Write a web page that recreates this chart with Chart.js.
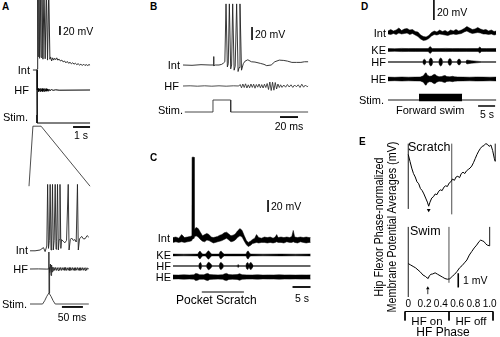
<!DOCTYPE html>
<html>
<head>
<meta charset="utf-8">
<script src="https://cdn.jsdelivr.net/npm/chart.js@4.4.1/dist/chart.umd.min.js"></script>
<style>
  body { margin: 0; width: 500px; height: 337px; position: relative; overflow: hidden; background: #fff;
         font-family: "Liberation Sans", Arial, Helvetica, sans-serif; color: #000; }
  canvas { position: absolute; }
  .lb { position: absolute; white-space: nowrap; line-height: 1; font-size: 11px; }
  .pl { position: absolute; font-weight: bold; font-size: 10px; line-height: 1; }
</style>
</head>
<body>
<script>
// ---------- A: slow sweep (time s, Int mV, HF uV, Stim a.u.) ----------
const aSlowInt = [[-0.24,-60],[-0.02,-60],[0,-58],[0.04,120],[0.07,-30],[0.11,120],[0.15,-34],[0.19,120],[0.24,-32],
  [0.29,120],[0.35,-36],[0.41,120],[0.48,-35],[0.55,120],[0.62,-38],[0.69,120],[0.76,-36],
  [0.8,-31],[0.86,-40],[0.92,-33],[0.98,-38],[1.04,-34],[1.1,-37],[1.16,-33],[1.22,-38],[1.3,-36],[1.38,-40],
  [1.46,-38],[1.54,-42],[1.62,-40],[1.7,-44],[1.78,-41],[1.86,-45],[1.94,-43],[2.02,-46],[2.1,-44],[2.18,-47],
  [2.26,-45],[2.34,-48],[2.42,-46],[2.5,-49],[2.58,-47],[2.66,-50],[2.74,-47],[2.82,-50],[2.9,-48],[2.98,-50],
  [3.06,-48],[3.12,-49]];
const aSlowHF = [[0,200],[0,-250],[0.02,0],[0.06,15],[0.1,-15],[0.14,12],[0.18,-14],[0.22,15],[0.26,-12],[0.3,14],
  [0.34,-15],[0.38,12],[0.42,-13],[0.46,14],[0.5,-12],[0.54,13],[0.58,-12],[0.62,10],[0.66,-10],[0.7,8],[0.76,-6],
  [0.85,4],[0.95,-3],[1.1,2],[1.3,-2],[3.12,0]];
const aSlowStim = [[0,1],[0,0],[3.12,0]];
// window of the slow sweep that is expanded below
const aZoomGuide = [[-0.47,-7.9],[-0.24,-0.4],[0.24,-0.4],[3.12,-7.9]];

// ---------- A: fast sweep (time ms) ----------
const aFastInt = [[0,-61],[12,-61],[24,-60],[32,-57],[36,-62],[40,-55],[42,22],[44,-58],[46,-48],[48,22],[50,-60],
  [51.5,-50],[53.6,22],[55.5,-60],[57.5,-48],[60,22],[62,-59],[63.5,-49],[65.5,22],[67.5,-60],[69.5,-47],[71.4,22],
  [73.5,-58],[75,-47],[79,-49],[83,-51],[87,-48],[91,22],[93,-60],[96,-47],[99,-45],[103,-48],[107,-47],[110,-50],
  [113,22],[115,-60],[118,-46],[123,-43],[127,-46],[131,-46],[136,-42],[140,-44]];
const aFastHF = [[0,0],[20,1],[40,-1],[44.6,0],[45,170],[45.3,-240],[46,15],[47.3,-35],[48.6,50],[50,-65],[51.4,40],
  [52.8,-30],[54.2,18],[55.6,-14],[57,15],[59,-13],[61,15],[63,-14],[65,13],[67,-15],[69,14],[71,-13],[73,15],[75,-14],
  [77,13],[79,-12],[81,14],[83,-13],[85,15],[87,-14],[89,12],[91,-13],[93,14],[95,-15],[97,13],[99,-12],[101,14],
  [103,-13],[105,12],[107,-14],[109,13],[111,-12],[113,14],[115,-13],[117,12],[119,-14],[121,13],[123,-12],[125,13],
  [127,-13],[129,12],[131,-14],[133,13],[135,-12],[137,10],[140,0]];
const aFastStim = [[0,0],[30,0],[35,0.3],[40,0.7],[45,1],[50,0.7],[55,0.3],[60,0],[140,0]];

// ---------- B (time ms) ----------
const bInt = [[0,-60],[10,-60.5],[20,-59.5],[30,-60],[33.6,-60],[34,-47],[34.4,-61],[36,-60],[40,-60],[43,-59],
  [45,-57],[46.5,-55],[47.8,34],[49.3,-63],[50.3,-58],[51.5,34],[53,-66],[54,-60],[55.2,34],[56.8,-68],[58,-62],
  [59.6,34],[61.2,-70],[62.3,-64],[63.3,34],[65,-68],[67,-58],[69,-54],[72,-52],[76,-55],[80,-55.5],[86,-57.5],
  [90,-59],[93,-61],[98,-60],[102,-55],[107,-52.5],[112,-53],[116,-54],[121,-56],[126,-56],[131,-56],[135,-55],[139,-55]];
const bHF = [[0,0],[8,2],[16,-2],[24,2],[32,-2],[40,2],[48,-2],[56,2],[62,0],[63.5,15],[65,-18],[66.5,20],[68,-15],
  [69.5,22],[71,-20],[72.5,12],[74,-18],[75.5,20],[77,-14],[78.5,18],[80,-22],[81.5,15],[83,-12],[84.5,20],[86,-18],
  [87.5,14],[89,-20],[90.5,18],[92,-15],[93.5,25],[95,-35],[96.5,40],[98,-45],[99.5,38],[101,-42],[102.5,35],
  [104,-30],[105.5,20],[107,-15],[108.5,12],[110,-14],[112,10],[114,-12],[116,15],[118,-10],[120,12],[122,-14],
  [124,10],[126,-8],[128,12],[130,-15],[132,18],[134,-12],[136,10],[138,-8],[139,0]];
const bStim = [[2,0],[33.3,0],[33.3,1],[53,1],[53,0],[139,0]];

// ---------- C: pocket scratch (time s) ----------
const cIntTime = [0,0.8,1.6,2.4,3.2,4.0,4.8,5.25,5.3,5.85,5.9,6.4,7.0,7.6,8.2,8.8,9.4,10.0,10.6,11.2,
  11.8,12.4,13.0,13.6,14.2,14.9,15.5,16.1,16.7,17.3,17.9,18.6,19.2,19.8,20.4,20.9,21.5,22.1,22.7,23.2,
  23.8,24.6,25.4,26.2,27.0,27.8,28.4,28.8,29.2,30.0,30.8,31.6,32.4,33.0,33.4,33.8,34.6,35.4,36.2,37.0,37.8,38.2];
const cIntHigh = [-56,-55,-57,-51,-56,-55,-54,-53,78,78,-43,-39,-41,-47,-53,-51,-49,-51,-55,-56,
  -55,-54,-52,-51,-48,-47,-50,-53,-52,-50,-45,-41,-44,-53,-61,-64,-62,-59,-57,-51,
  -56,-57,-55,-56,-55,-57,-55,-51,-56,-55,-56,-55,-56,-54,-44,-55,-56,-55,-56,-55,-56,-56];
const cIntLow = [-64,-63,-64,-63,-64,-63,-62,-61,-59,-57,-55,-53,-55,-59,-62,-63,-60,-61,-63,-65,
  -64,-63,-62,-61,-59,-57,-60,-63,-62,-60,-56,-53,-55,-62,-68,-71,-69,-66,-65,-64,
  -65,-64,-64,-65,-64,-65,-64,-63,-64,-64,-65,-63,-64,-64,-63,-64,-65,-63,-64,-65,-64,-64];
const cKeTime = [0,3,6.9,7.2,7.5,7.8,8.2,9.0,9.3,9.6,9.9,10.3,10.7,12.8,13.1,13.4,13.8,14.2,20.3,20.6,20.9,21.2,21.6,25,30,34,38.2];
const cKeAmp = [0.9,0.8,0.9,3,4,2.5,0.9,0.9,2,3.5,4.2,2.5,0.9,0.9,3.5,3.8,2,0.9,0.9,3.5,4,2,0.9,0.8,0.9,0.8,0.9];
const cHfTime = [0,7.1,7.4,7.7,8.0,9.2,9.5,9.8,10.2,10.5,10.9,12.8,13.1,13.4,13.8,14.1,17.8,18.1,18.4,20.2,
  20.5,20.8,21.1,21.4,21.7,22.0,22.3,38.2];
const cHfAmp = [0.35,0.35,3,3.5,0.35,0.35,2,3.8,3.2,2,0.35,0.35,3.2,3.6,2,0.35,0.35,1.5,0.35,0.35,
  3,3.4,1,3.2,3.5,2,0.35,0.35];
const cHeTime = [0,1.5,3,4.5,5.8,6.3,6.8,7.4,8.6,9.2,9.7,10.2,11.2,12.5,13.8,14.4,14.9,15.5,16.5,17.8,
  18.5,19.2,20.5,22,23.5,25,26.5,28,29.5,31,32.5,34,35.5,37,38.2];
const cHeAmp = [2.1,1.9,2.2,2.0,2.2,3.6,3.2,2.3,2.2,3.2,3.6,2.4,2.2,2.1,2.3,3.2,3.6,2.4,2.2,2.4,
  3.3,2.3,2.1,2.0,2.2,1.9,2.1,2.0,2.2,2.0,2.1,1.9,2.1,2.0,2.1];
const cScratchEpoch = [8.0, 19.7];

// ---------- D: forward swim (time s) ----------
const dIntTime = [0,0.8,1.6,2.4,3.2,4.0,4.8,5.6,6.4,7.2,8.0,8.8,9.6,10.4,11.2,12.0,12.8,13.6,14.4,15.2,
  16.0,16.8,17.6,18.4,19.2,20.0,20.8,21.6,22.4,23.2,24.0,24.8,25.6,26.4,27.2,28.0,28.8,29.6,30.4,31.2,31.8];
const dIntHigh = [-58,-56.5,-58,-57,-55,-57.5,-56,-55.5,-57,-56.5,-58.5,-59,-62,-63.5,-64,-62.5,-59.5,-58,-59,-57,
  -58.5,-57.5,-59,-57,-58,-56.5,-58,-57,-55.5,-53.5,-55,-56.5,-56,-54.5,-56,-57,-56.5,-58,-57,-58.5,-58];
const dIntLow = [-61,-61.5,-60.5,-61.5,-60,-61,-60.5,-60,-61.5,-60.5,-62,-63.5,-66,-67.5,-67,-65.5,-63,-61.5,-62,-61,
  -61.5,-62,-62.5,-61.5,-61,-61.5,-61,-60.5,-59,-58,-59.5,-60.5,-60,-59.5,-60,-61,-61,-61.5,-61,-62,-61.5];
const dKeTime = [0,2,4,6,8,10,11.8,12.4,13.0,15,17,19,21,23,25,26.5,27.0,27.5,29,31.8];
const dKeAmp = [1.5,1.3,1.6,1.4,1.5,1.4,1.5,3.5,1.5,1.4,1.6,1.4,1.5,1.4,1.5,1.5,3,1.5,1.4,1.5];
const dHfTime = [0,10.2,10.45,10.7,10.95,11.2,12.0,12.3,12.6,12.9,13.2,14.9,15.2,15.5,15.8,16.1,
  17.6,17.9,18.2,18.5,18.8,20.3,20.6,20.9,21.2,21.5,22.9,23.2,23.5,24.5,26,27.6,31.8];
const dHfAmp = [0.35,0.35,2.2,2.8,2.2,0.35,0.35,3.2,4,3.2,0.35,0.35,3.2,4,3.2,0.35,
  0.35,2.8,3.5,2.8,0.35,0.35,2.4,3,2.4,0.35,0.35,2,1.8,1.2,0.8,0.35,0.35];
const dHeTime = [0,2,4,6,8,9.5,10.4,10.9,11.2,11.6,12.2,12.8,13.3,13.8,14.3,15.0,15.8,16.4,16.8,17.3,
  18.2,19.0,19.6,20.5,22,24,26,28,30,31.8];
const dHeAmp = [1.9,1.7,2.0,1.8,1.9,2.0,3.2,5.7,6.2,3.7,2.7,2.9,4.2,4.7,3.2,2.3,2.5,3.3,3.5,2.4,
  2.2,2.7,2.2,2.0,1.9,1.8,2.0,1.9,1.8,1.9];
const dSweep = [0, 31.8];
const dSwimEpoch = [9.1, 21.8];

// ---------- E: phase-normalized membrane potential (mV) ----------
const phaseTicks = [0, 0.2, 0.4, 0.6, 0.8, 1.0];
const hfPhaseSplit = [0, 0.5, 1];
const scratchPhase = [0,0.02,0.04,0.06,0.08,0.10,0.12,0.14,0.16,0.18,0.20,0.22,0.235,0.25,0.27,0.29,0.31,0.33,0.35,0.37,
  0.39,0.41,0.43,0.45,0.47,0.49,0.51,0.53,0.55,0.57,0.59,0.61,0.63,0.65,0.67,0.69,0.71,0.73,0.75,0.77,
  0.79,0.81,0.83,0.85,0.87,0.89,0.91,0.93,0.95,0.97,0.99,1.0];
const scratchMv = [4.4,3.9,3.4,3.0,2.75,2.4,2.25,1.9,1.75,1.5,1.2,0.9,0.6,0.9,1.2,1.3,1.5,1.45,1.7,1.8,
  1.75,2.0,2.1,2.05,2.3,2.4,2.6,2.5,2.75,2.8,2.7,3.0,3.1,3.0,3.2,3.3,3.4,3.55,3.8,4.1,
  4.4,4.65,4.85,5.0,5.05,5.2,5.15,5.0,5.1,4.7,4.1,3.9];
const swimPhase = [0,0.03,0.06,0.09,0.12,0.15,0.18,0.21,0.23,0.245,0.26,0.28,0.30,0.33,0.36,0.39,0.42,0.45,0.48,0.51,
  0.54,0.57,0.60,0.63,0.66,0.69,0.72,0.75,0.78,0.81,0.84,0.87,0.89,0.91,0.93,0.95,0.97,1.0];
const swimMv = [2.35,2.25,2.15,2.05,1.9,1.75,1.55,1.45,1.35,1.3,1.5,1.6,1.62,1.7,1.6,1.5,1.4,1.3,1.25,1.28,
  1.45,1.6,1.8,2.05,2.2,2.4,2.6,2.95,3.2,3.45,3.65,3.9,4.0,3.95,3.9,3.75,3.65,3.6];

// ---------- helpers ----------
const FONT = '"Liberation Sans", Arial, Helvetica, sans-serif';
const INK = '#000';
Chart.defaults.font.family = FONT;
Chart.defaults.color = INK;

const pairs = a => a.map(([x, y]) => ({ x, y }));
const xy = (t, v) => t.map((x, i) => ({ x, y: v[i] }));

function trace(data, axis, width, color) {
  return { data, yAxisID: axis, borderColor: color || INK, borderWidth: width || 1,
           pointRadius: 0, fill: false, tension: 0 };
}
// noisy recording drawn as the filled area between an upper and a lower envelope
function band(t, hi, lo, axis) {
  return [
    { data: xy(t, hi), yAxisID: axis, borderColor: INK, borderWidth: 0.5, pointRadius: 0, fill: false },
    { data: xy(t, lo), yAxisID: axis, borderColor: INK, borderWidth: 0.5, pointRadius: 0,
      fill: '-1', backgroundColor: INK }
  ];
}
const burst = (t, amp, axis) => band(t, amp, amp.map(a => -a), axis);
const seg = (x0, y0, x1, y1, axis, width) => trace(pairs([[x0, y0], [x1, y1]]), axis, width);

// axis limits that put value v at page pixel p with k pixels per unit
function across(box, p, v, k) { return { min: v - (p - box.x) / k, max: v + (box.x + box.w - p) / k }; }
function down(box, p, v, k, areaH) {
  const h = areaH || box.h;
  return { min: v - (box.y + h - p) / k, max: v + (p - box.y) / k };
}

function panel(box, x, ys, datasets, xExtra) {
  const cv = document.createElement('canvas');
  cv.width = box.w; cv.height = box.h;
  Object.assign(cv.style, { left: box.x + 'px', top: box.y + 'px', width: box.w + 'px', height: box.h + 'px' });
  document.body.appendChild(cv);
  const scales = { x: Object.assign({ type: 'linear', display: false }, x, xExtra || {}) };
  for (const id in ys) scales[id] = Object.assign({ type: 'linear', display: false }, ys[id]);
  return new Chart(cv, {
    type: 'line',
    data: { datasets },
    options: {
      responsive: false, animation: false, events: [], devicePixelRatio: 1,
      layout: { padding: 0 },
      plugins: { legend: { display: false }, tooltip: { enabled: false }, colors: { enabled: false } },
      scales
    }
  });
}

function text(str, x, y, align, size, extra) {
  const d = document.createElement('div');
  d.className = 'lb';
  d.textContent = str;
  const tx = align === 'r' ? '-100%' : align === 'c' ? '-50%' : '0';
  Object.assign(d.style, { left: x + 'px', top: y + 'px', transform: `translate(${tx},-50%)` });
  if (size) d.style.fontSize = size + 'px';
  if (extra) Object.assign(d.style, extra);
  document.body.appendChild(d);
  return d;
}
function letter(str, x, y) {
  const d = document.createElement('div');
  d.className = 'pl';
  d.textContent = str;
  Object.assign(d.style, { left: x + 'px', top: y + 'px' });
  document.body.appendChild(d);
}

// ---------- A ----------
{
  const box = { x: 26, y: 0, w: 72, h: 190 };
  panel(box, across(box, 37, 0, 17),
    { yInt: down(box, 70, -60, 0.45), yHF: down(box, 90, 0, 0.1), yStim: down(box, 123, 0, 8) },
    [
      trace(pairs(aSlowInt), 'yInt', 1, '#2a2a2a'),
      trace(pairs(aSlowHF), 'yHF'),
      trace(pairs(aSlowStim), 'yStim'),
      seg(1.35, 18, 1.35, 38, 'yInt', 1.6),
      seg(2.12, -0.5, 3.12, -0.5, 'yStim', 1.8),
      trace(pairs(aZoomGuide), 'yStim', 0.8, '#222')
    ]);
}
{
  const box = { x: 24, y: 178, w: 72, h: 150 };
  panel(box, across(box, 30, 0, 0.42),
    { yInt: down(box, 250, -60, 0.8), yHF: down(box, 269, 0, 0.1), yStim: down(box, 304, 0, 11) },
    [
      trace(pairs(aFastInt), 'yInt', 0.9, '#222'),
      trace(pairs(aFastHF), 'yHF', 0.9, '#222'),
      trace(pairs(aFastStim), 'yStim', 0.9, '#333'),
      seg(76, -0.27, 126, -0.27, 'yStim', 1.8)
    ]);
}
letter('A', 2, 2);
text('20 mV', 63, 31, 'l', 10.5);
text('Int', 30, 70, 'r');
text('HF', 29, 90, 'r');
text('Stim.', 28, 117, 'r');
text('1 s', 81, 135, 'c', 10.5);
text('Int', 28, 250, 'r');
text('HF', 28, 269, 'r');
text('Stim.', 27, 304, 'r');
text('50 ms', 72, 317, 'c', 10.5);

// ---------- B ----------
{
  const box = { x: 180, y: 0, w: 132, h: 122 };
  panel(box, across(box, 183, 0, 0.9),
    { yInt: down(box, 65, -60, 0.65), yHF: down(box, 86, 0, 0.1), yStim: down(box, 112, 0, 12) },
    [
      trace(pairs(bInt), 'yInt', 0.9, '#222'),
      trace(pairs(bHF), 'yHF', 0.8, '#222'),
      trace(pairs(bStim), 'yStim', 0.9, '#333'),
      seg(76.7, -21.5, 76.7, -1.5, 'yInt', 1.6),
      seg(107.8, -0.42, 127.8, -0.42, 'yStim', 1.8)
    ]);
}
letter('B', 150, 2);
text('20 mV', 255, 34, 'l', 10.5);
text('Int', 180, 65, 'r');
text('HF', 179, 86, 'r');
text('Stim.', 183, 110, 'r');
text('20 ms', 289, 126, 'c', 10.5);

// ---------- C ----------
{
  const box = { x: 170, y: 150, w: 145, h: 148 };
  panel(box, across(box, 173, 0, 3.6),
    { yInt: down(box, 240, -60, 0.6), yKE: down(box, 255, 0, 1), yHF: down(box, 266, 0, 1), yHE: down(box, 277, 0, 1) },
    [
      ...band(cIntTime, cIntHigh, cIntLow, 'yInt'),
      ...burst(cKeTime, cKeAmp, 'yKE'),
      ...burst(cHfTime, cHfAmp, 'yHF'),
      ...burst(cHeTime, cHeAmp, 'yHE'),
      seg(26.4, -13.3, 26.4, 6.7, 'yInt', 1.6),
      seg(33.2, -10, 38.2, -10, 'yHE', 1.8),
      seg(cScratchEpoch[0], -15, cScratchEpoch[1], -15, 'yHE', 1.2)
    ]);
}
letter('C', 150, 153);
text('20 mV', 271, 206, 'l', 10.5);
text('Int', 170, 238, 'r');
text('KE', 171, 255, 'r');
text('HF', 171, 266, 'r');
text('HE', 171, 277, 'r');
text('5 s', 302, 298, 'c', 10.5);
text('Pocket Scratch', 176, 300, 'l', 12);

// ---------- D ----------
{
  const box = { x: 385, y: 0, w: 115, h: 112 };
  panel(box, across(box, 388, 0, 3.4),
    { yInt: down(box, 33, -60, 1), yKE: down(box, 50, 0, 1), yHF: down(box, 62, 0, 1),
      yHE: down(box, 79, 0, 1), yStim: down(box, 100, 0, 1) },
    [
      ...band(dIntTime, dIntHigh, dIntLow, 'yInt'),
      ...burst(dKeTime, dKeAmp, 'yKE'),
      ...burst(dHfTime, dHfAmp, 'yHF'),
      ...burst(dHeTime, dHeAmp, 'yHE'),
      seg(dSweep[0], 0, dSweep[1], 0, 'yStim', 0.9),
      ...band(dSwimEpoch, [6, 6], [-1, -1], 'yStim'),
      seg(13.5, -47, 13.5, -27, 'yInt', 1.6),
      seg(26.5, -6, 31.5, -6, 'yStim', 1.5)
    ]);
}
letter('D', 361, 2);
text('20 mV', 437, 12, 'l', 10.5);
text('Int', 386, 33, 'r');
text('KE', 386, 50, 'r');
text('HF', 386, 62, 'r');
text('HE', 386, 79, 'r');
text('Stim.', 384, 100, 'r');
text('Forward swim', 396, 110, 'l');
text('5 s', 487, 114, 'c', 10.5);

// ---------- E ----------
{
  const box = { x: 395, y: 136, w: 107, h: 86 };
  panel(box, across(box, 405, 0, 94), { y: down(box, 218, 0, 15) },
    [
      trace(xy(scratchPhase, scratchMv), 'y', 1),
      seg(0, 0.4, 0, 5.2, 'y', 0.9),
      seg(0.5, 0, 0.5, 5.2, 'y', 0.7),
      seg(1, 3.9, 1, 5.2, 'y', 0.9),
      { data: [{ x: 0.235, y: 0.32 }], yAxisID: 'y', pointStyle: 'triangle', rotation: 180, pointRadius: 2.2,
        backgroundColor: INK, borderColor: INK, borderWidth: 0, showLine: false }
    ]);
}
{
  const box = { x: 395, y: 220, w: 107, h: 91 };
  const areaH = 77;
  panel(box, across(box, 405, 0, 88), { y: down(box, 297, 0, 15, areaH) },
    [
      trace(xy(swimPhase, swimMv), 'y', 1),
      seg(0, 0, 0, 4.93, 'y', 0.9),
      seg(0.5, 1.0, 0.5, 4.93, 'y', 0.7),
      seg(1, 3.6, 1, 4.93, 'y', 0.9),
      seg(0.614, 0.67, 0.614, 1.67, 'y', 1.6),
      seg(0.24, 0.2, 0.24, 0.55, 'y', 0.8),
      { data: [{ x: 0.24, y: 0.62 }], yAxisID: 'y', pointStyle: 'triangle', rotation: 0, pointRadius: 2,
        backgroundColor: INK, borderColor: INK, borderWidth: 0, showLine: false }
    ],
    {
      display: true,
      grid: { display: false, drawTicks: false },
      border: { display: false },
      ticks: { font: { size: 10 }, padding: 1, color: INK, autoSkip: false, maxRotation: 0,
               callback: v => (v === 0 ? '0' : v.toFixed(1)) },
      afterBuildTicks: s => { s.ticks = phaseTicks.map(v => ({ value: v })); },
      afterFit: s => { s.height = 14; }
    });
}
{
  const box = { x: 395, y: 306, w: 107, h: 18 };
  const ds = [seg(hfPhaseSplit[0], 0, hfPhaseSplit[hfPhaseSplit.length - 1], 0, 'y', 1)];
  hfPhaseSplit.forEach(p => ds.push(seg(p, 0, p, -9, 'y', 1)));
  panel(box, across(box, 405, 0, 88), { y: down(box, 311.5, 0, 1) }, ds);
}
letter('E', 359, 137);
{
  const d = document.createElement('div');
  d.className = 'lb';
  d.innerHTML = 'Hip Flexor Phase-normalized<br>Membrane Potential Averages (mV)';
  Object.assign(d.style, { left: '386px', top: '227px', textAlign: 'center', lineHeight: '13px',
    fontSize: '12px', transform: 'translate(-50%,-50%) rotate(-90deg) scale(0.9,1)' });
  document.body.appendChild(d);
}
text('Scratch', 408, 147, 'l', 12.5);
text('Swim', 410, 231, 'l', 12.5);
text('1 mV', 463, 280, 'l', 10.5);
text('HF on', 427, 322, 'c', 11.5);
text('HF off', 471, 322, 'c', 11.5);
text('HF Phase', 443, 332, 'c', 12);
</script>
</body>
</html>
